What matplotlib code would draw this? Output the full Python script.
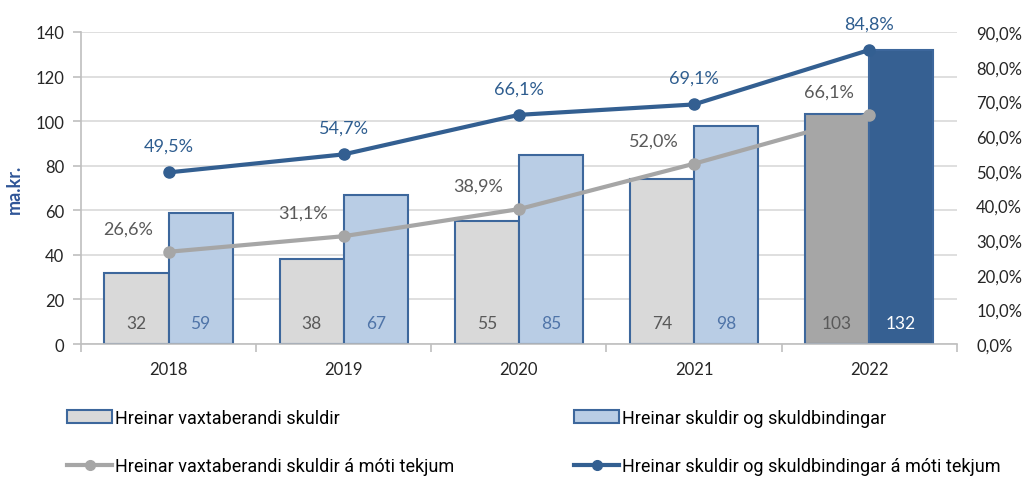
import matplotlib
matplotlib.use("Agg")
import matplotlib.pyplot as plt
import numpy as np
from matplotlib.patches import Patch
from matplotlib.lines import Line2D

years = ["2018", "2019", "2020", "2021", "2022"]
vaxta = [32, 38, 55, 74, 103]
skuldir = [59, 67, 85, 98, 132]
vaxta_pct = [26.6, 31.1, 38.9, 52.0, 66.1]
skuldir_pct = [49.5, 54.7, 66.1, 69.1, 84.8]
legend_labels = ["Hreinar vaxtaberandi skuldir", "Hreinar skuldir og skuldbindingar",
                 "Hreinar vaxtaberandi skuldir á móti tekjum",
                 "Hreinar skuldir og skuldbindingar á móti tekjum"]

FONT = ["Lato", "DejaVu Sans"]
NARROW = ["Liberation Sans Narrow", "Roboto", "DejaVu Sans"]
plt.rcParams['font.family'] = FONT

GREY_FILL = "#d9d9d9"
BLUE_FILL = "#b9cde5"
EDGE = "#3d679c"
GREY_LINE = "#a6a6a6"
BLUE_LINE = "#335f91"
DARK_GREY = "#a6a6a6"
DARK_BLUE = "#366092"
TXT = "#595959"
AX = "#bfbfbf"

fig = plt.figure(figsize=(10.29, 4.81), dpi=100)
ax = fig.add_axes([0.0787, 0.2827, 0.851, 0.6487])
ax2 = ax.twinx()

x = np.arange(len(years))
w = 0.366
gfill = [GREY_FILL] * 4 + [DARK_GREY]
bfill = [BLUE_FILL] * 4 + [DARK_BLUE]
ax.bar(x - w / 2, vaxta, w, color=gfill, edgecolor=EDGE, linewidth=1.5, zorder=2)
ax.bar(x + w / 2, skuldir, w, color=bfill, edgecolor=EDGE, linewidth=1.5, zorder=2)

for i in range(len(years)):
    ax.text(x[i] - w / 2, 9.5, f"{vaxta[i]}", ha="center", va="center",
            fontsize=12.5, color=TXT, zorder=3)
    ax.text(x[i] + w / 2, 9.5, f"{skuldir[i]}", ha="center", va="center",
            fontsize=12.5, color="white" if i == 4 else "#4f74a8", zorder=3)

ax.set_xlim(-0.5, 4.5)
ax.set_ylim(0, 140)
ax.set_yticks(range(0, 141, 20))
ax.yaxis.grid(True, color="#d9d9d9", linewidth=1.2, zorder=0)
ax.set_axisbelow(True)
ax.set_xticks(x)
ax.set_xticklabels(years, fontsize=12, color="#262626")
ax.set_xticks(np.arange(-0.5, 4.6, 1), minor=True)
ax.tick_params(axis="x", which="major", length=0, pad=12)
ax.tick_params(axis="x", which="minor", length=6, color=AX, width=1.2)
ax.tick_params(axis="y", labelsize=12, colors="#262626", length=6, width=1.2, pad=6)
ax.tick_params(axis="y", color=AX)
for s in ["top", "right"]:
    ax.spines[s].set_visible(False)
for s in ["left", "bottom"]:
    ax.spines[s].set_color(AX)
    ax.spines[s].set_linewidth(1.2)
ax.set_ylabel("ma.kr.", fontsize=13, fontweight="bold", color="#2f5597", labelpad=9)

ax2.set_ylim(0, 90)
ax2.set_yticks(range(0, 91, 10))
ax2.set_yticklabels([f"{v},0%" for v in range(0, 91, 10)])
ax2.tick_params(axis="y", labelsize=12, colors="#262626", length=0, pad=14)
for s in ["top", "right", "left", "bottom"]:
    ax2.spines[s].set_visible(False)

ax2.plot(x, vaxta_pct, color=GREY_LINE, lw=3, marker="o", ms=8, zorder=4)
ax2.plot(x, skuldir_pct, color=BLUE_LINE, lw=3, marker="o", ms=8, zorder=4)

for i in range(len(years)):
    ax2.annotate(f"{vaxta_pct[i]:.1f}%".replace(".", ","), (x[i], vaxta_pct[i]),
                 xytext=(-29, 17), textcoords="offset points", ha="center", va="center",
                 fontsize=13, color=TXT, annotation_clip=False)
    ax2.annotate(f"{skuldir_pct[i]:.1f}%".replace(".", ","), (x[i], skuldir_pct[i]),
                 xytext=(0, 19), textcoords="offset points", ha="center", va="center",
                 fontsize=13, color="#2e5d8f", annotation_clip=False)

handles = [
    Patch(facecolor=GREY_FILL, edgecolor=EDGE, linewidth=1.5),
    Patch(facecolor=BLUE_FILL, edgecolor=EDGE, linewidth=1.5),
    Line2D([], [], color=GREY_LINE, lw=3, marker="o", ms=7),
    Line2D([], [], color=BLUE_LINE, lw=3, marker="o", ms=7),
]
pos = [(67, 419), (574, 419), (67, 467), (574, 467)]
for h, lab, (px, py) in zip(handles, legend_labels, pos):
    fig.legend([h], [lab], loc="center left",
               bbox_to_anchor=(px / 1029, 1 - py / 481), frameon=False,
               prop={"family": NARROW, "size": 13}, handlelength=2.5,
               handletextpad=0.15, borderpad=0, borderaxespad=0)

fig.savefig("out.png", dpi=100)
